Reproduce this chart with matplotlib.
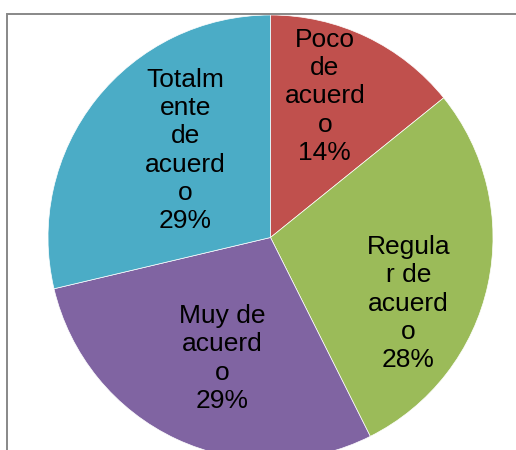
import matplotlib
matplotlib.use("Agg")
import matplotlib.pyplot as plt
from matplotlib.patches import Rectangle

plt.rcParams["font.family"] = ["Liberation Sans", "DejaVu Sans"]

# data (share of answers, %)
categories = ["Poco de acuerdo", "Regular de acuerdo", "Muy de acuerdo", "Totalmente de acuerdo"]
values = [14.2, 28.4, 28.7, 28.7]
# category text as wrapped in the original labels
label_text = ["Poco\nde\nacuerd\no", "Regula\nr de\nacuerd\no", "Muy de\nacuerd\no", "Totalm\nente\nde\nacuerd\no"]
colors = ["#C0504D", "#9BBB59", "#8064A2", "#4BACC6"]

# label centres in pie units (radius 1)
label_pos = [(0.244, 0.634), (0.620, -0.297), (-0.216, -0.544), (-0.382, 0.391)]

fig = plt.figure(figsize=(5.16, 4.5), dpi=100)

# chart-area border (left/top visible, rest cut off)
fig.patches.append(Rectangle((7 / 516, -0.2), 2.0, (450 - 14) / 450 + 0.2,
                             transform=fig.transFigure, fill=False,
                             edgecolor="#888888", linewidth=1.4, zorder=0))

ax = fig.add_axes([48 / 516, -10 / 450, 445 / 516, 445 / 450])
ax.pie(values, colors=colors, startangle=90, counterclock=False, radius=1.0,
       wedgeprops=dict(edgecolor="white", linewidth=0.5))

total = sum(values)
for txt, v, (x, y) in zip(label_text, values, label_pos):
    pct = round(v / total * 100)
    ax.text(x, y, f"{txt}\n{pct}%", ha="center", va="center",
            fontsize=19, color="black", linespacing=1.22)

ax.set_xlim(-1, 1)
ax.set_ylim(-1, 1)
ax.set_aspect("equal")
ax.axis("off")

fig.savefig("out.png", dpi=100)
